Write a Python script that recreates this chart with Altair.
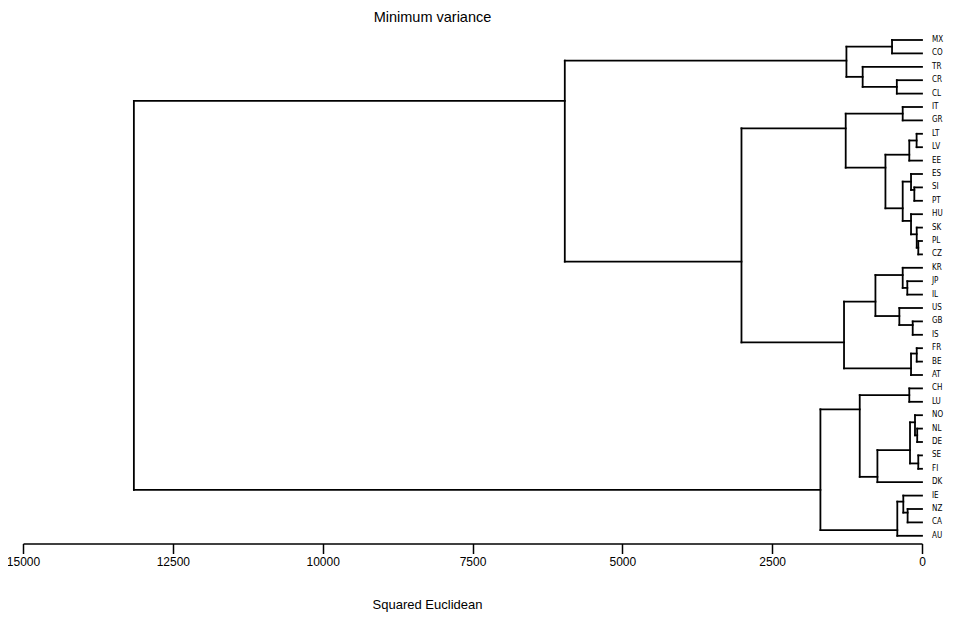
import altair as alt
import pandas as pd

# Leaves in display order (top to bottom)
leaves = ["MX", "CO", "TR", "CR", "CL", "IT", "GR", "LT", "LV", "EE", "ES", "SI",
          "PT", "HU", "SK", "PL", "CZ", "KR", "JP", "IL", "US", "GB", "IS", "FR",
          "BE", "AT", "CH", "LU", "NO", "NL", "DE", "SE", "FI", "DK", "IE", "NZ",
          "CA", "AU"]

# Internal merges: id, left child, right child, height (squared Euclidean), position (leaf units)
node_ids = ["n1", "n2", "n3", "n4", "n5", "n6", "n7", "n8", "n9", "n10", "n11", "n12",
            "n13", "n14", "n15", "n16", "n17", "n18", "n19", "n20", "n21", "n22", "n23",
            "n24", "n25", "n26", "n27", "n28", "n29", "n30", "n31", "n32", "n33", "n34",
            "n35", "n36", "n37"]
node_left = ["MX", "CR", "TR", "n1", "IT", "LT", "n6", "SI", "ES", "PL", "SK", "HU",
             "n9", "n7", "n5", "JP", "KR", "GB", "US", "n17", "FR", "n21", "n20",
             "n15", "n4", "CH", "NL", "NO", "SE", "n28", "n30", "n26", "NZ", "IE",
             "n34", "n32", "n25"]
node_right = ["CO", "CL", "n2", "n3", "GR", "LV", "EE", "PT", "n8", "CZ", "n10", "n11",
              "n12", "n13", "n14", "IL", "n16", "IS", "n18", "n19", "BE", "AT", "n22",
              "n23", "n24", "LU", "DE", "n27", "FI", "n29", "DK", "n31", "CA", "n33",
              "AU", "n35", "n36"]
node_height = [500, 420, 990, 1261, 322, 90, 212, 128, 183, 62, 88, 183,
               322, 610, 1273, 245, 322, 155, 378, 777, 88, 183, 1301,
               3012, 5960, 212, 80, 117, 62, 200, 744, 1039, 240, 312,
               412, 1695, 13150]
node_pos = [0.5, 3.5, 2.75, 1.54, 5.5, 7.5, 8.56, 11.19, 10.57, 15.5, 14.5, 13.5,
            12.56, 9.53, 6.59, 18.5, 17.54, 21.27, 20.6, 19.53, 23.4, 24.5, 22.57,
            16.54, 4.55, 26.5, 29.5, 28.53, 31.6, 30.6, 32.6, 27.56, 35.27, 34.45,
            36.57, 33.58, 19.0]

x_ticks = [0, 2500, 5000, 7500, 10000, 12500, 15000]
title_text = "Minimum variance"
x_title = "Squared Euclidean"

# Build segments
pos = {lab: float(i) for i, lab in enumerate(leaves)}
hgt = {lab: 0.0 for lab in leaves}
for nid, h, p in zip(node_ids, node_height, node_pos):
    pos[nid] = p
    hgt[nid] = float(h)

rows = []
for nid, l, r in zip(node_ids, node_left, node_right):
    for c in (l, r):
        rows.append({"x": hgt[c], "x2": hgt[nid], "y": pos[c], "y2": pos[c]})
    rows.append({"x": hgt[nid], "x2": hgt[nid],
                 "y": min(pos[l], pos[r]), "y2": max(pos[l], pos[r])})
seg = pd.DataFrame(rows)

lab_df = pd.DataFrame({"leaf": leaves, "y": [pos[l] for l in leaves], "x": [0.0] * len(leaves)})

xscale = alt.Scale(domain=[0, 15000], reverse=True, nice=False, zero=False)
yscale = alt.Scale(domain=[-0.746, 37.575], reverse=True, nice=False, zero=False)

xaxis = alt.Axis(values=x_ticks, format="d", title=x_title, grid=False,
                 domainColor="black", domainWidth=1.5, tickColor="black",
                 tickWidth=1.5, tickSize=10, labelFont="Liberation Sans",
                 labelFontSize=12, labelColor="black", labelPadding=3,
                 labelFlush=False, labelOverlap=False,
                 titleFont="Liberation Sans", titleFontSize=13,
                 titleFontWeight="normal", titleColor="black",
                 titleX=404, titleY=61, titleBaseline="middle", titleAlign="center")

lines = alt.Chart(seg).mark_rule(color="black", strokeWidth=1.8, strokeCap="square").encode(
    x=alt.X("x:Q", scale=xscale, axis=xaxis),
    x2="x2:Q",
    y=alt.Y("y:Q", scale=yscale, axis=None),
    y2="y2:Q",
)

labels = alt.Chart(lab_df).mark_text(
    align="left", baseline="middle", dx=10,
    font="Liberation Sans Narrow, DejaVu Sans Condensed, Liberation Sans, sans-serif",
    fontSize=8, color="black"
).encode(
    x=alt.X("x:Q", scale=xscale),
    y=alt.Y("y:Q", scale=yscale),
    text="leaf:N",
)

chart = alt.layer(lines, labels).properties(
    width=899,
    height=513.5,
    background="white",
    title=alt.TitleParams(title_text, font="Liberation Sans", fontSize=14.5,
                          fontWeight="normal", color="black", anchor="middle",
                          frame="group", dx=-40, offset=5),
    autosize=alt.AutoSizeParams(type="none"),
    padding={"left": 15, "top": 22, "right": 23, "bottom": 68.5},
).configure_view(strokeWidth=0, stroke=None)

chart.save("out.html", embed_options={"renderer": "svg", "actions": False})
